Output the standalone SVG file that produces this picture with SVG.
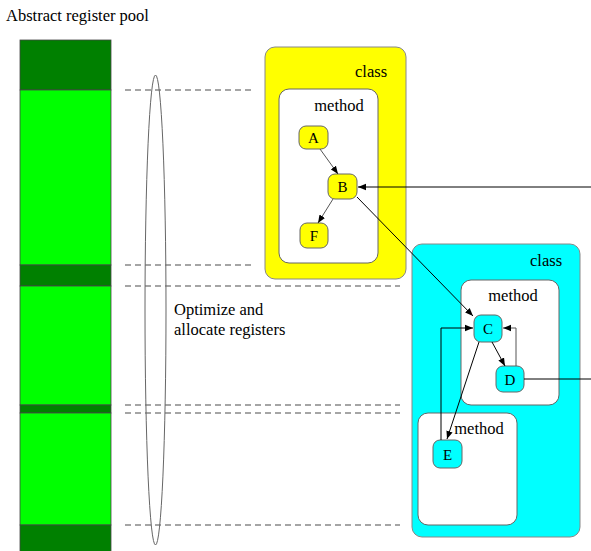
<svg xmlns="http://www.w3.org/2000/svg" width="591" height="551" viewBox="0 0 591 551">
<defs>
<style>
text{font-family:"Liberation Serif","DejaVu Serif",serif;font-size:16.5px;fill:#000}
.dash{stroke:#888;stroke-width:1.3;stroke-dasharray:6 4;fill:none}
.dk{fill:#008000;stroke:#444;stroke-width:0.8}
.lt{fill:#00ff00;stroke:#444;stroke-width:0.8}
.ny{fill:#ffff00;stroke:#666;stroke-width:1}
.nc{fill:#00ffff;stroke:#666;stroke-width:1}
.meth{fill:#fff;stroke:#666;stroke-width:1}
.edge{stroke:#555;stroke-width:1;fill:none}
.edgek{stroke:#000;stroke-width:1;fill:none}
.lbl{text-anchor:middle}
.nl{text-anchor:middle;font-size:15px}
</style>
<marker id="ah" viewBox="0 0 10 10" refX="10" refY="5" markerWidth="8" markerHeight="8" orient="auto" markerUnits="userSpaceOnUse">
<path d="M0,1 L10,5 L0,9 z" fill="#000"/>
</marker>
</defs>
<rect width="591" height="551" fill="#fff"/>
<g id="pool">
<text x="6" y="21">Abstract register pool</text>
<rect class="dk" x="20" y="40" width="91" height="50"/>
<rect class="lt" x="20" y="90" width="91" height="175"/>
<rect class="dk" x="20" y="265" width="91" height="21"/>
<rect class="lt" x="20" y="286" width="91" height="119"/>
<rect class="dk" x="20" y="405" width="91" height="8"/>
<rect class="lt" x="20" y="413" width="91" height="112"/>
<rect class="dk" x="20" y="525" width="91" height="30"/>
</g>
<g id="guides">
<line class="dash" x1="125" y1="90" x2="252" y2="90"/>
<line class="dash" x1="125" y1="265" x2="252" y2="265"/>
<line class="dash" x1="125" y1="286" x2="400" y2="286"/>
<line class="dash" x1="125" y1="405" x2="400" y2="405"/>
<line class="dash" x1="125" y1="413" x2="400" y2="413"/>
<line class="dash" x1="125" y1="525" x2="400" y2="525"/>
</g>
<g id="optimizer">
<ellipse cx="155.5" cy="310" rx="10.5" ry="235" fill="none" stroke="#666" stroke-width="1"/>
<text x="174" y="315">Optimize and</text>
<text x="174" y="335">allocate registers</text>
</g>
<g id="class1">
<rect x="265" y="47" width="141" height="232" rx="10" fill="#ffff00" stroke="#888" stroke-width="1"/>
<text x="355" y="77">class</text>
</g>
<g id="method1">
<rect class="meth" x="279" y="89" width="99" height="174" rx="10"/>
<text x="339" y="111" class="lbl">method</text>
</g>
<g id="class2">
<rect x="412" y="244" width="168" height="293" rx="10" fill="#00ffff" stroke="#888" stroke-width="1"/>
<text x="530" y="266">class</text>
</g>
<g id="method2">
<rect class="meth" x="461" y="280" width="98" height="125" rx="10"/>
<text x="513" y="301" class="lbl">method</text>
</g>
<g id="method3">
<rect class="meth" x="418" y="413" width="99" height="112" rx="10"/>
<text x="479" y="434" class="lbl">method</text>
</g>
<g id="nodeA"><rect class="ny" x="299" y="126" width="29" height="23" rx="7"/><text x="313.5" y="143" class="nl">A</text></g>
<g id="nodeB"><rect class="ny" x="328" y="174" width="29" height="25" rx="7"/><text x="342.5" y="192" class="nl">B</text></g>
<g id="nodeF"><rect class="ny" x="300" y="223" width="28" height="25" rx="7"/><text x="314" y="241" class="nl">F</text></g>
<g id="nodeC"><rect class="nc" x="474" y="315" width="28" height="27" rx="7"/><text x="488" y="334" class="nl">C</text></g>
<g id="nodeD"><rect class="nc" x="496" y="366" width="28" height="26" rx="7"/><text x="510" y="385" class="nl">D</text></g>
<g id="nodeE"><rect class="nc" x="433" y="440" width="29" height="28" rx="7"/><text x="447.5" y="460" class="nl">E</text></g>
<g id="connectors">
<line class="edge" x1="320" y1="149" x2="338" y2="174" marker-end="url(#ah)"/>
<line class="edge" x1="333" y1="199" x2="318" y2="223" marker-end="url(#ah)"/>
<line class="edgek" x1="591" y1="187" x2="358" y2="187" marker-end="url(#ah)"/>
<line class="edgek" x1="357" y1="197" x2="473" y2="316" marker-end="url(#ah)"/>
<line class="edgek" x1="492" y1="342" x2="505" y2="366" marker-end="url(#ah)"/>
<polyline class="edge" points="516,366 516,328 503,328" marker-end="url(#ah)"/>
<polyline class="edgek" points="441,440 441,328 473,328" marker-end="url(#ah)"/>
<line class="edgek" x1="479" y1="342" x2="447" y2="439" marker-end="url(#ah)"/>
<line class="edgek" x1="524" y1="379" x2="591" y2="379"/>
</g>
</svg>
